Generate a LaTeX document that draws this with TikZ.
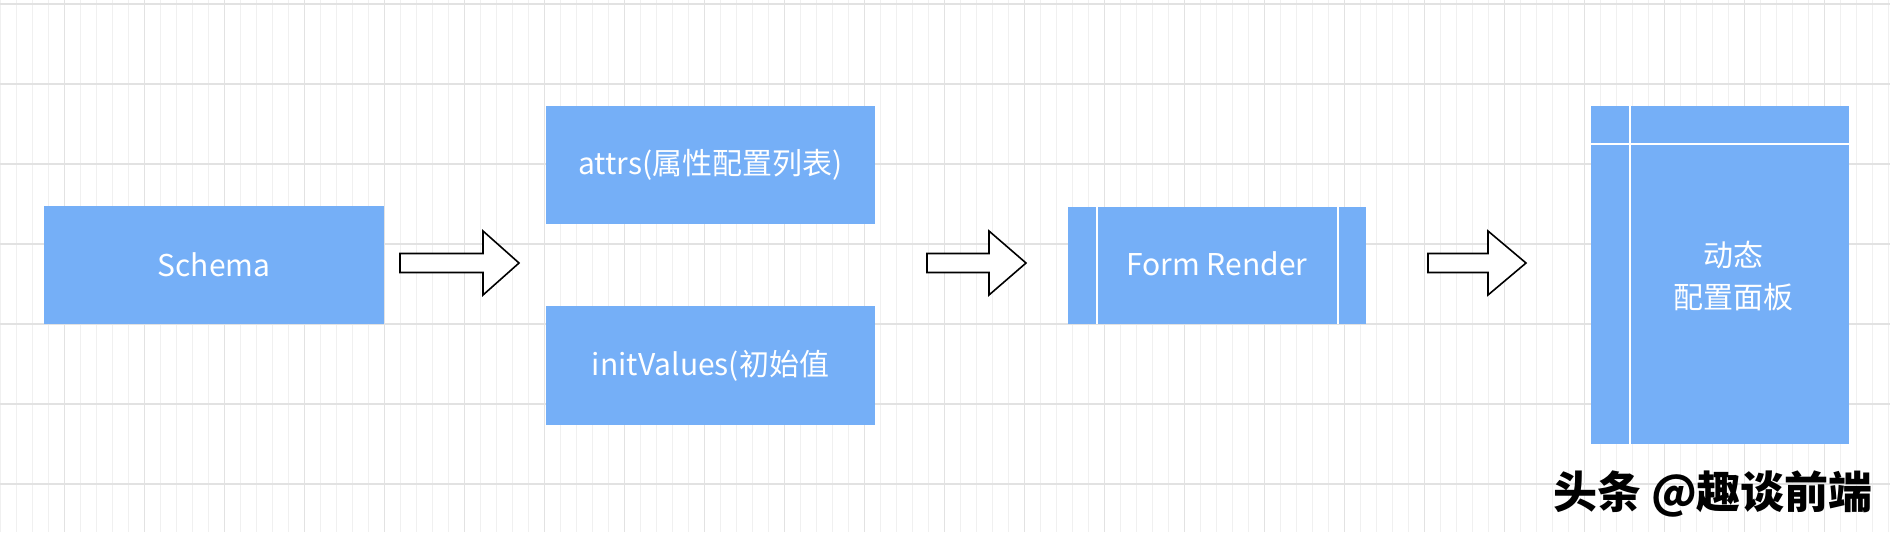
\documentclass[tikz,border=0pt]{standalone}
\usepackage{fontspec}
\setmainfont{Noto Sans CJK SC}
\definecolor{bx}{RGB}{117,175,247}
\definecolor{gmin}{RGB}{240,240,240}
\definecolor{gmaj}{RGB}{226,226,226}
\begin{document}
\begin{tikzpicture}[x=0.5pt,y=-0.5pt,
  box/.style={fill=bx,draw=none,text=white,font=\fontsize{15}{18}\selectfont,inner sep=0pt},
  fat/.style={draw=black,line width=0.8pt,fill=white}]
\useasboundingbox (0,0) rectangle (1890,532);
\fill[white] (0,0) rectangle (1890,532);
\foreach \x in {0,16,...,1890} \draw[gmin,line width=0.4pt] (\x,0) -- (\x,532);
\foreach \x in {64,144,...,1890} \draw[gmaj,line width=0.5pt] (\x,0) -- (\x,532);
\foreach \y in {4,84,...,532} \draw[gmaj,line width=0.6pt] (0,\y) -- (1890,\y);
% boxes
\node[box,minimum width=170pt,minimum height=59pt] (schema) at (214,265) {Schema};
\node[box,minimum width=164.5pt,minimum height=59pt] (attrs) at (710.5,165) {attrs(属性配置列表)};
\node[box,minimum width=164.5pt,minimum height=59.5pt] (init) at (710.5,365.5) {initValues(初始值};
\node[box,minimum width=149pt,minimum height=58.5pt] (form) at (1217,265.5) {};
\draw[white,line width=1pt] (1097,207) -- (1097,324) (1338,207) -- (1338,324);
\node[text=white,font=\fontsize{15}{18}\selectfont] (formt) at (1217,264) {Form Render};
\node[box,minimum width=129pt,minimum height=169pt] (panel) at (1720,275) {};
\draw[white,line width=1pt] (1630,106) -- (1630,444) (1591,144) -- (1849,144);
\node[text=white,font=\fontsize{15}{21}\selectfont,align=center] (pt) at (1733,276) {动态\\配置面板};
% block arrows
\coordinate (a1) at (400,263);
\coordinate (a2) at (927,263);
\coordinate (a3) at (1428,263);
\foreach \c/\h/\e in {a1/483/519,a2/989/1026,a3/1488/1526}{
  \draw[fat] ([yshift=-4.75pt]\c) -- ([yshift=-4.75pt]\c -| \h,0) -- ([yshift=-16pt]\c -| \h,0) -- (\c -| \e,0) -- ([yshift=16pt]\c -| \h,0) -- ([yshift=4.75pt]\c -| \h,0) -- ([yshift=4.75pt]\c) -- cycle;
}
\node[font=\fontsize{22}{24}\selectfont\bfseries,text=black,anchor=east] (wm) at (1880,494) {头条 @趣谈前端};
\end{tikzpicture}
\end{document}
